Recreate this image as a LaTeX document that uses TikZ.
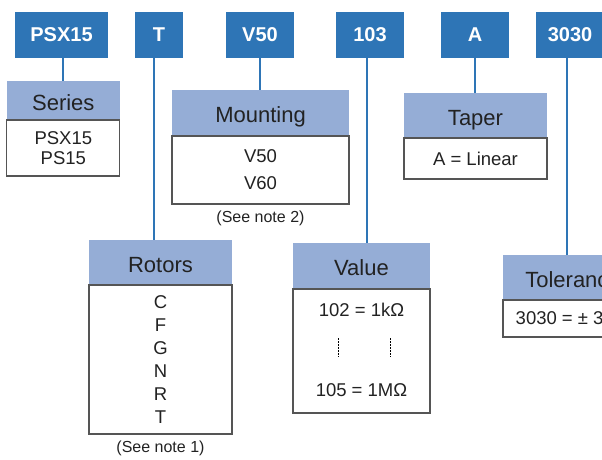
\documentclass[tikz,border=0pt]{standalone}
\usepackage{fontspec}
\setmainfont{Liberation Sans}
\usetikzlibrary{positioning}

\definecolor{codeblue}{RGB}{46,117,182}
\definecolor{headblue}{RGB}{149,173,214}
\definecolor{framegray}{RGB}{85,85,85}
\definecolor{textgray}{RGB}{34,34,34}

\tikzset{
  code/.style={fill=codeblue,text=white,font=\bfseries\fontsize{20}{24}\selectfont,minimum height=46pt,inner sep=0pt,outer sep=0pt},
  head/.style={fill=headblue,text=textgray,font=\fontsize{22}{26}\selectfont,text height=19.5pt,text depth=0pt,inner sep=0pt,outer sep=0pt},
  body/.style={draw=framegray,line width=1.2pt,fill=white,text=textgray,align=center,inner sep=0pt,outer sep=0pt,font=\fontsize{18.5}{23}\selectfont},
  bodytext/.style={text=textgray,inner sep=0pt,font=\fontsize{18.5}{23}\selectfont},
  note/.style={text=textgray,inner sep=0pt,font=\fontsize{16}{19}\selectfont},
  wire/.style={codeblue,line width=2.5pt},
  dots/.style={black,line width=0.7pt,dash pattern=on 1.5pt off 1.5pt}
}

\begin{document}
\begin{tikzpicture}[x=1pt,y=-1pt]

  \useasboundingbox (0,0) rectangle (602,459);
  \clip (0,0) rectangle (602,459);

  % Part number codes
  \node[code,minimum width=93pt] (series) at (61.5,35) {PSX15};
  \node[code,minimum width=48pt] (rotor) at (159,35) {T};
  \node[code,minimum width=68pt] (mount) at (260,35) {V50};
  \node[code,minimum width=68pt] (value) at (370,35) {103};
  \node[code,minimum width=68pt] (taper) at (475,35) {A};
  \node[code,minimum width=68pt] (tol) at (570,35) {3030};

  % Headers and option boxes
  \node[head,minimum width=113pt,minimum height=39pt] (serieshead) at (63.3,100.5) {Series};
  \node[body,minimum width=113pt,minimum height=56pt,below=0pt of serieshead,font=\fontsize{18.5}{20}\selectfont] (seriesbody) {PSX15\\PS15};

  \node[head,minimum width=177pt,minimum height=46pt] (mounthead) at (260.5,113) {Mounting};
  \node[body,minimum width=177pt,minimum height=68pt,below=0pt of mounthead,font=\fontsize{18.5}{27}\selectfont] (mountbody) {V50\\V60};
  \node[note,below=6.5pt of mountbody] (note2) {(See note 2)};

  \node[head,minimum width=143pt,minimum height=45pt] (taperhead) at (475.5,115.5) {Taper};
  \node[body,minimum width=143pt,minimum height=41pt,below=0pt of taperhead] (taperbody) {A = Linear};

  \node[head,minimum width=143pt,minimum height=45pt] (rotorhead) at (160.5,262.5) {Rotors};
  \node[body,minimum width=143pt,minimum height=149pt,below=0pt of rotorhead] (rotorbody) {C\\F\\G\\N\\R\\T};
  \node[note,below=7pt of rotorbody] (note1) {(See note 1)};

  \node[head,minimum width=137pt,minimum height=46pt] (valuehead) at (361.5,266) {Value};
  \node[body,minimum width=137pt,minimum height=124pt,below=0pt of valuehead] (valuebody) {};
  \node[bodytext] (kohm) at (361.5,310) {102 = 1kΩ};
  \node[bodytext] (mohm) at (361.5,390) {105 = 1MΩ};
  \draw[dots] (338,338) -- (338,357) (390,338) -- (390,357);

  \node[head,minimum width=140pt,minimum height=45pt] (tolhead) at (573,277.5) {Tolerance};
  \node[body,minimum width=140pt,minimum height=37pt,below=0pt of tolhead] (tolbody) {3030 = ± 30\%};

  % Connectors
  \draw[wire] ([xshift=1.5pt]series.south) -- ([xshift=1.5pt]series.south |- serieshead.north);
  \draw[wire] ([xshift=-5pt]rotor.south) -- ([xshift=-5pt]rotor.south |- rotorhead.north);
  \draw[wire] (mount.south) -- (mount.south |- mounthead.north);
  \draw[wire] ([xshift=-3pt]value.south) -- ([xshift=-3pt]value.south |- valuehead.north);
  \draw[wire] (taper.south) -- (taper.south |- taperhead.north);
  \draw[wire] ([xshift=-3pt]tol.south) -- ([xshift=-3pt]tol.south |- tolhead.north);

\end{tikzpicture}
\end{document}
